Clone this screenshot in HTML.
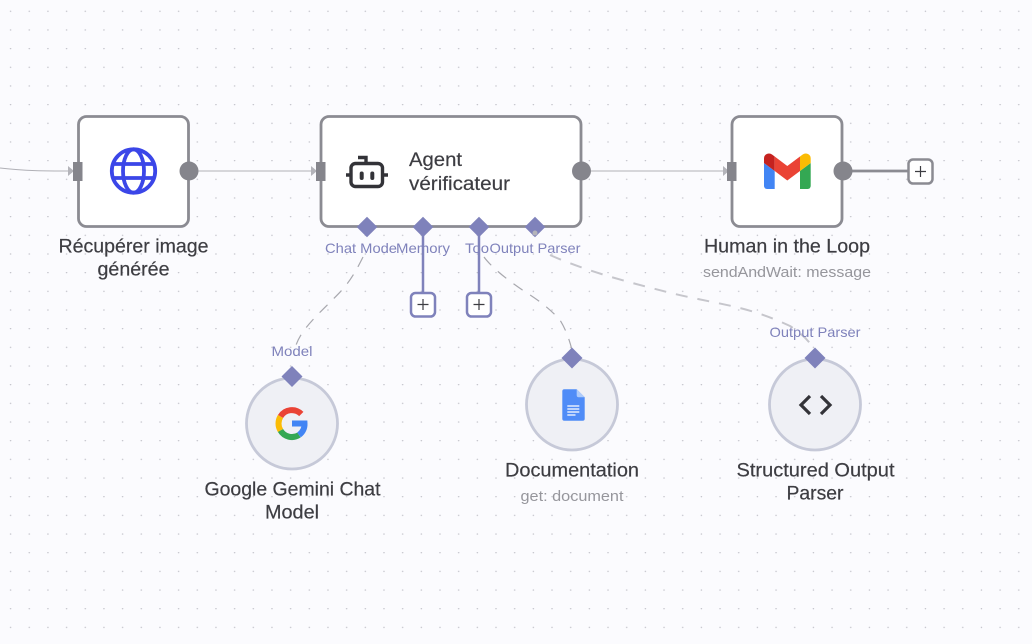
<!DOCTYPE html>
<html><head><meta charset="utf-8"><style>
html,body{margin:0;padding:0;width:1032px;height:644px;overflow:hidden;background:#fbfbfe}
svg{display:block}
text{font-family:"Liberation Sans",sans-serif}
.t{font-size:19px;fill:#3d3d42;stroke:#3d3d42;stroke-width:.2;text-anchor:middle}
.s{font-size:14.5px;fill:#96969c;text-anchor:middle}
.p{font-size:14px;fill:#7f82bb;text-anchor:middle}
</style></head><body>
<svg width="1032" height="644" viewBox="0 0 1032 644" xmlns="http://www.w3.org/2000/svg">
<defs><pattern id="g" x="1.3" y="1.3" width="18.67" height="18.67" patternUnits="userSpaceOnUse"><circle cx="9.3" cy="10" r="0.7" fill="#bcbcc4"/></pattern></defs>
<rect width="1032" height="644" fill="#fbfbfe"/>
<rect width="1032" height="644" fill="url(#g)"/>

<!-- main connectors -->
<g fill="none" stroke="#b0b0b6" stroke-width="1">
<path d="M0 168C25 171 45 171 72 171"/>
<path d="M198 171H314"/>
<path d="M591 171H726"/>
</g>
<g fill="#b4b4ba"><path d="M68 166l6 5-6 5z"/><path d="M311 166l6 5-6 5z"/><path d="M723 166l6 5-6 5z"/></g>
<path d="M852 171H908" stroke="#8b8b92" stroke-width="2.800"/>

<!-- dashed AI connectors -->
<g fill="none">
<path d="M363 257C357 269 351 280 342 290C331 302 315 316 305 329C299 337 297 342 295 348" stroke="#a8a8ae" stroke-width="1.200" stroke-dasharray="11 9"/>
<path d="M484 257C492 268 510 282 527 293C540 301 552 311 560 320C565 328 569 338 572 350" stroke="#a8a8ae" stroke-width="1.200" stroke-dasharray="11 9"/>
<path d="M550 255C590 273 640 285 667 292C690 298 720 303 740 308C760 313 775 319 790 326C802 334 811 342 815 352" stroke="#c6c6cc" stroke-width="2" stroke-dasharray="12 10"/>
</g>
<path d="M423 228V295M479 228V295" stroke="#7f82bb" stroke-width="2.500"/>

<!-- Rect nodes -->
<g fill="#fff" stroke="#8b8b92" stroke-width="2.800">
<rect x="78.500" y="116.500" width="110" height="110" rx="8"/>
<rect x="321" y="116.500" width="260" height="110" rx="8"/>
<rect x="732" y="116.500" width="110" height="110" rx="8"/>
</g>
<g fill="#85858c">
<rect x="73" y="162" width="9.500" height="19"/><circle cx="189" cy="171" r="9.500"/>
<rect x="316" y="162" width="9.500" height="19"/><circle cx="581.500" cy="171" r="9.500"/>
<rect x="727" y="162" width="9.500" height="19"/><circle cx="843" cy="171" r="9.500"/>
</g>

<!-- Globe -->
<g fill="none" stroke="#3b46e8" stroke-width="3.800">
<circle cx="133.500" cy="171" r="21.700"/>
<ellipse cx="133.500" cy="171" rx="10.500" ry="21.700"/>
<path d="M113 164H154M113 178H154"/>
</g>

<!-- Robot -->
<g fill="none" stroke="#333338" stroke-width="3.400">
<rect x="351" y="163.500" width="31.500" height="23" rx="4.500"/>
<path d="M346 175H350M383 175H388M366 163V157.500H358"/>
</g>
<rect x="359.700" y="171.500" width="4" height="8.500" rx="2" fill="#333338"/><rect x="370.300" y="171.500" width="4" height="8.500" rx="2" fill="#333338"/>
<text x="409" y="166" font-size="19" fill="#3d3d42" stroke="#3d3d42" stroke-width=".2" textLength="53" lengthAdjust="spacingAndGlyphs">Agent</text>
<text x="409" y="190" font-size="19" fill="#3d3d42" stroke="#3d3d42" stroke-width=".2" textLength="101" lengthAdjust="spacingAndGlyphs">vérificateur</text>

<!-- Gmail -->
<path d="M764 163L774.700 171V189H767A3 3 0 0 1 764 186Z" fill="#4285f4"/>
<path d="M800 171L810.700 163V186A3 3 0 0 1 807.700 189H800Z" fill="#34a853"/>
<path d="M764 163V158.500A5 5 0 0 1 772 154.500L774.700 156.500V171Z" fill="#c5221f"/>
<path d="M774.700 156.500L787.300 166L800 156.500V171L787.300 180.500L774.700 171Z" fill="#ea4335"/>
<path d="M800 156.500L802.700 154.500A5 5 0 0 1 810.700 158.500V163L800 171Z" fill="#fbbc04"/>

<!-- Plus boxes -->
<g fill="#fff" stroke-width="2.500">
<rect x="908.500" y="159.500" width="24" height="24" rx="4.500" stroke="#8b8b92"/>
<rect x="411" y="293" width="24" height="23.500" rx="4.500" stroke="#7f82bb"/>
<rect x="467" y="293" width="24" height="23.500" rx="4.500" stroke="#7f82bb"/>
</g>
<path d="M920.500 166V177M915 171.500H926M423 299V310M417.500 304.500H428.500M479 299V310M473.500 304.500H484.500" stroke="#3d3d42" stroke-width="1.200"/>

<!-- Diamonds on agent -->
<g fill="#7f82bb">
<path d="M367 216.700l10.300 10.300-10.300 10.300-10.300-10.300z"/><path d="M423 216.700l10.300 10.300-10.300 10.300-10.300-10.300z"/>
<path d="M479 216.700l10.300 10.300-10.300 10.300-10.300-10.300z"/><path d="M535 216.700l10.300 10.300-10.300 10.300-10.300-10.300z"/>
</g>
<circle cx="535" cy="233" r="2.500" fill="#b4b4ba"/>

<!-- Circle nodes -->
<g fill="#eff0f5" stroke="#c6c9d8" stroke-width="2.800">
<circle cx="292" cy="423.500" r="45.500"/>
<circle cx="572" cy="404.500" r="45.500"/>
<circle cx="815" cy="404.500" r="45.500"/>
</g>
<g fill="#7f82bb">
<path d="M292 366l10.500 10.500-10.500 10.500-10.500-10.500z"/>
<path d="M572 347.500l10.500 10.500-10.500 10.500-10.500-10.500z"/>
<path d="M815 347.500l10.500 10.500-10.500 10.500-10.500-10.500z"/>
</g>

<!-- Google G -->
<g fill="none" stroke-width="6">
<path d="M280.500 416.500A13.300 13.300 0 0 1 301.300 414" stroke="#ea4335"/>
<path d="M280.500 416.500A13.300 13.300 0 0 0 280.500 430.500" stroke="#fbbc05"/>
<path d="M280.500 430.500A13.300 13.300 0 0 0 299 435" stroke="#34a853"/>
<path d="M299 435A13.300 13.300 0 0 0 304.500 423.500H292" stroke="#4285f4"/>
</g>

<!-- Docs -->
<path d="M564.300 389.300H576.700L584.700 397.300V418.700A2 2 0 0 1 582.700 420.700H564.300A2 2 0 0 1 562.300 418.700V391.300A2 2 0 0 1 564.300 389.300Z" fill="#4f8cf7"/>
<path d="M576.700 389.300L584.700 397.300H578.700A2 2 0 0 1 576.700 395.300Z" fill="#aecbfa"/>
<path d="M567.300 406H579.300M567.300 409H579.300M567.300 412H579.300M567.300 415H575.500" stroke="#fff" stroke-width="1.300"/>

<!-- Code -->
<path d="M810 396L801 405L810 414M821 396L830 405L821 414" fill="none" stroke="#333338" stroke-width="3.200"/>

<!-- Port labels -->
<text class="p" x="361" y="253" textLength="72" lengthAdjust="spacingAndGlyphs">Chat Mode</text>
<text class="p" x="423" y="253" textLength="54" lengthAdjust="spacingAndGlyphs">Memory</text>
<text class="p" x="477" y="253" textLength="24" lengthAdjust="spacingAndGlyphs">Too</text>
<text class="p" x="535" y="253" textLength="91" lengthAdjust="spacingAndGlyphs">Output Parser</text>
<text class="p" x="292" y="356" textLength="41" lengthAdjust="spacingAndGlyphs">Model</text>
<text class="p" x="815" y="337" textLength="91" lengthAdjust="spacingAndGlyphs">Output Parser</text>

<!-- Node labels -->
<text class="t" x="133.500" y="252.500" textLength="150" lengthAdjust="spacingAndGlyphs">Récupérer image</text>
<text class="t" x="133.500" y="275.500" textLength="72" lengthAdjust="spacingAndGlyphs">générée</text>
<text class="t" x="787" y="252.500" textLength="166" lengthAdjust="spacingAndGlyphs">Human in the Loop</text>
<text class="s" x="787" y="277" textLength="168" lengthAdjust="spacingAndGlyphs">sendAndWait: message</text>
<text class="t" x="292.500" y="495.500" textLength="176" lengthAdjust="spacingAndGlyphs">Google Gemini Chat</text>
<text class="t" x="292" y="518.500" textLength="54" lengthAdjust="spacingAndGlyphs">Model</text>
<text class="t" x="572" y="476.500" textLength="134" lengthAdjust="spacingAndGlyphs">Documentation</text>
<text class="s" x="572" y="501" textLength="103" lengthAdjust="spacingAndGlyphs">get: document</text>
<text class="t" x="815.500" y="476.500" textLength="158" lengthAdjust="spacingAndGlyphs">Structured Output</text>
<text class="t" x="815" y="499.500" textLength="57" lengthAdjust="spacingAndGlyphs">Parser</text>
</svg>
</body></html>
